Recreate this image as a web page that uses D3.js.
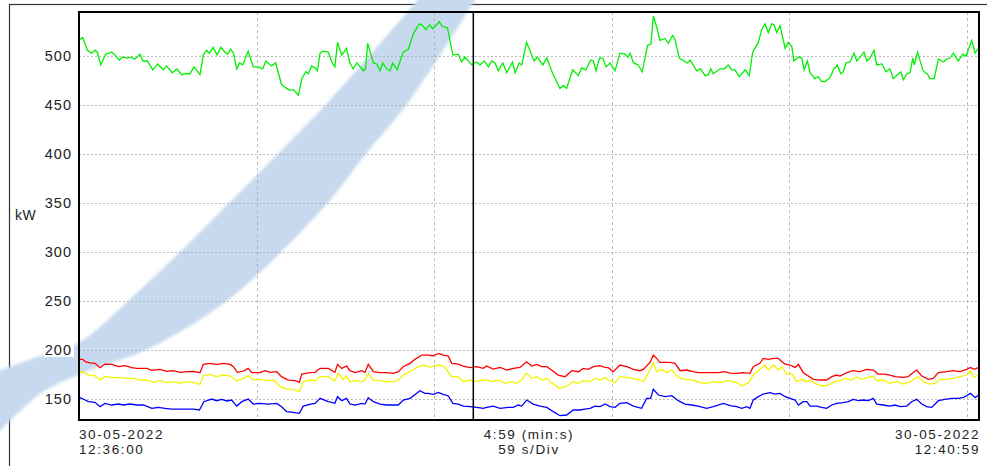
<!DOCTYPE html>
<html lang="en">
<head>
	<meta charset="UTF-8">
	<title>kW trend</title>
	<script src="https://d3js.org/d3.v7.min.js" charset="utf-8"></script>
	<style>
		body { margin: 0; background: #fff; }
		text { font-family: "Liberation Sans", Arial, sans-serif; fill: #222; }
	</style>
</head>
<body>
	<svg></svg>
	<script>
		// samples: [seconds from 12:36:00, kW]
		const green = [[0.3,517],[1.2,519],[2.8,506],[4.2,503],[5.3,506],[6.1,504],[7.2,491],[8.9,502],[10.9,504],[12.0,501],[13.3,496],[14.4,499],[16.2,498],[17.3,499],[18.6,497],[20.3,502],[21.2,495],[22.7,495],[24.5,486],[26.1,492],[28.0,486],[29.1,490],[31.0,483],[32.5,487],[34.1,481],[35.4,482],[36.9,482],[38.2,489],[40.2,481],[41.3,501],[42.4,506],[43.3,503],[44.6,509],[45.9,501],[47.1,509],[48.5,504],[49.4,502],[50.4,507],[51.3,503],[52.4,487],[53.3,493],[54.4,491],[56.2,505],[57.9,489],[59.6,489],[61.0,487],[62.1,495],[64.0,490],[65.3,493],[67.3,471],[69.0,467],[70.1,465],[71.2,466],[72.9,460],[74.0,477],[75.4,484],[76.2,482],[77.3,490],[78.4,488],[79.2,485],[80.1,503],[81.0,505],[82.8,504],[84.0,494],[85.0,489],[85.9,514],[87.3,501],[88.9,508],[90.0,493],[91.1,487],[92.3,493],[93.4,489],[94.5,485],[95.2,487],[95.9,513],[97.8,493],[98.9,492],[100.0,485],[100.9,493],[102.2,487],[103.3,485],[104.2,493],[105.7,486],[107.7,504],[109.4,507],[111.1,523],[113.1,533],[114.2,531],[115.3,527],[116.4,532],[117.5,528],[119.7,535],[120.8,530],[122.4,529],[124.2,501],[126.0,502],[127.1,494],[128.2,499],[130.5,491],[132.1,494],[133.2,491],[134.6,495],[136.0,489],[137.1,495],[138.2,493],[139.3,485],[140.8,493],[142.1,483],[144.0,494],[144.9,483],[146.2,493],[147.1,491],[148.7,514],[149.8,506],[151.2,495],[152.3,499],[154.1,491],[155.4,498],[157.4,482],[159.8,467],[160.9,470],[162.0,467],[164.0,486],[165.9,480],[167.0,488],[168.4,486],[170.0,496],[170.9,495],[171.8,485],[172.9,498],[174.0,498],[175.1,489],[176.4,493],[178.1,485],[179.7,503],[181.4,502],[182.3,499],[183.1,503],[184.2,493],[185.8,491],[187.1,484],[188.9,511],[190.0,512],[190.8,541],[191.9,530],[193.0,516],[194.7,518],[195.8,513],[197.2,521],[198.0,517],[199.4,498],[201.0,495],[202.1,493],[203.0,496],[205.2,485],[206.5,487],[208.0,480],[209.1,481],[209.9,487],[210.7,482],[213.0,487],[214.4,487],[215.7,491],[216.8,486],[217.9,486],[219.4,479],[221.3,486],[222.7,480],[223.8,504],[225.7,514],[226.8,527],[227.9,533],[229.0,524],[230.1,533],[230.9,532],[231.8,524],[232.9,531],[234.6,508],[235.6,514],[236.8,510],[237.5,495],[239.0,499],[240.1,498],[240.9,486],[242.0,495],[242.9,483],[244.5,477],[245.6,479],[246.7,474],[247.8,474],[249.5,478],[250.8,487],[251.9,491],[253.1,482],[253.9,484],[254.8,493],[256.1,494],[257.5,503],[258.4,495],[259.5,499],[260.8,504],[261.7,495],[262.8,498],[264.1,506],[265.0,491],[266.7,492],[268.1,484],[269.4,487],[270.5,477],[271.9,481],[273.0,484],[273.9,476],[275.0,482],[276.1,483],[277.0,498],[277.5,491],[278.6,504],[280.3,486],[281.1,483],[281.8,482],[282.7,477],[284.1,477],[285.5,497],[287.2,494],[288.3,497],[289.4,498],[290.5,503],[292.1,495],[293.6,502],[294.7,500],[295.5,507],[296.6,516],[297.7,503],[298.8,508]]

		const red = [[0.3,190.5],[1.2,190.5],[2.3,188],[3.7,187],[5.3,186.4],[7.0,182],[8.6,185.7],[10.9,185.4],[13.1,183],[15.3,184],[17.5,182],[19.2,181.3],[22.5,181.3],[24.2,179.2],[26.9,180.3],[29.1,178.2],[31.3,178.9],[33.6,177.2],[35.8,177.9],[38.0,178.2],[40.2,176.9],[41.3,185.4],[43.5,186.4],[45.7,185.4],[47.9,186.4],[50.2,185.4],[51.3,183],[52.6,177.2],[54.6,178.6],[56.2,181.3],[57.4,176.9],[60.1,176.9],[61.8,178.9],[63.5,177.2],[65.7,177.9],[67.3,172.8],[69.5,169.4],[71.8,168.7],[73.2,167],[74.0,175.5],[76.7,176.9],[78.4,177.2],[80.1,181.3],[82.8,181.3],[85.0,177.2],[85.9,185.4],[87.3,181.3],[88.9,183.7],[90.0,178.9],[91.7,176.9],[93.9,178.9],[95.0,177.2],[96.1,185.4],[97.8,177.9],[100.0,176.9],[102.2,176.9],[104.4,176.2],[106.1,177.9],[107.7,183],[110.0,186.4],[111.6,190.5],[113.9,194.9],[116.0,194.9],[117.7,194.2],[119.4,196.6],[121.0,194.9],[122.7,193.9],[123.8,186.4],[126.0,185.7],[127.7,183.7],[129.9,182],[132.1,183],[134.3,181.3],[135.4,183.7],[137.6,180.6],[139.9,182.3],[142.1,179.6],[144.3,181.3],[146.5,182.3],[148.7,188],[150.4,183.7],[152.1,185.4],[153.7,183],[155.4,183],[157.0,179.6],[159.2,174.5],[161.5,172.8],[163.7,178.9],[165.9,177.9],[167.5,181.3],[169.2,180.3],[170.9,183],[172.9,184],[174.8,182.3],[175.8,182],[177.5,177.9],[179.7,184.7],[182.0,183],[184.2,180.3],[186.4,178.9],[187.5,180.3],[189.7,187.4],[190.8,194.9],[191.9,191.5],[193.0,187.4],[194.7,187.4],[196.3,187.4],[198.0,186.4],[199.7,178.9],[201.9,179.6],[204.1,177.9],[205.7,176.9],[207.4,176.9],[209.6,176.9],[212.4,176.9],[214.6,177.9],[216.3,176.5],[218.5,176.2],[220.7,176.9],[222.9,176.2],[224.0,183],[226.2,186.4],[227.3,191.5],[229.0,190.5],[230.7,191.5],[232.3,191.5],[233.5,188],[234.6,185.7],[236.2,184.7],[237.9,182.3],[239.0,185.4],[240.6,176.9],[241.8,174.5],[244.0,170.1],[246.2,169.4],[248.4,169.4],[250.1,172.8],[251.7,174.5],[252.8,173.5],[255.1,176.9],[257.2,178.9],[259.5,177.9],[261.7,180.3],[263.9,179.6],[265.5,175.5],[267.8,175.5],[269.4,174.5],[271.1,172.8],[273.9,172.1],[275.5,172.8],[277.0,176.9],[278.3,179.6],[280.0,173.5],[282.2,170.1],[283.8,171.1],[285.5,176.9],[288.3,177.9],[290.5,178.9],[292.7,177.9],[294.9,180.3],[296.2,182.3],[297.3,180.3],[298.8,182]]

		const yellow = [[0.3,177.2],[1.4,177.9],[3.1,174.5],[5.3,173.8],[7.0,169.4],[8.6,172.8],[11.4,171.8],[13.6,172.1],[15.8,171.1],[18.0,171.1],[20.3,169.4],[22.5,169.4],[24.7,167],[26.9,168.7],[29.1,166.7],[31.3,167.7],[33.6,166],[35.8,167.7],[38.0,166.7],[40.2,165],[41.3,173.8],[43.5,175.2],[45.7,172.8],[47.9,174.5],[50.2,173.5],[52.4,168.4],[54.6,171.1],[56.2,174],[57.9,169.4],[60.1,170.1],[62.4,168.7],[64.6,169.4],[66.8,162.6],[69.0,160.2],[71.2,159.9],[73.2,157.5],[74.5,167.7],[76.7,169.4],[78.4,168.7],[80.1,172.8],[82.8,172.8],[85.0,168.7],[86.1,176.2],[87.6,170.1],[88.9,173.5],[90.0,167.7],[91.7,168.7],[93.9,167.7],[95.0,169.4],[96.1,176.2],[97.8,169.4],[100.0,168.7],[102.2,167.7],[104.4,167.7],[106.1,169.4],[107.7,174.5],[110.0,177.9],[112.2,182.3],[114.4,184.7],[116.6,182.3],[117.7,183.7],[119.9,184.7],[121.6,182.3],[123.8,172.8],[126.0,172.8],[127.7,167.7],[129.9,169.4],[132.1,167.7],[134.3,169.4],[135.4,169.4],[137.1,167.7],[139.3,169.4],[141.5,166],[143.8,167.7],[145.4,166],[147.1,169.4],[148.7,176.2],[150.4,171.1],[152.1,172.8],[153.7,169.4],[155.4,171.1],[157.0,166.7],[159.6,160.9],[161.8,162.6],[164.0,167.7],[165.9,166],[167.5,168.7],[169.8,167.7],[171.4,171.1],[173.1,169.4],[174.8,172.1],[175.8,169.4],[178.1,166.7],[179.7,172.8],[182.0,172.1],[184.2,171.1],[186.4,169.4],[187.5,167.7],[189.1,176.2],[190.8,187.1],[191.9,177.9],[193.6,180.3],[195.2,176.9],[196.9,179.6],[199.1,172.1],[201.3,170.1],[204.1,169.4],[206.3,166.7],[208.5,166],[210.7,167.7],[213.0,166.7],[215.7,168.7],[218.5,167],[220.2,163.3],[222.4,166.7],[224.0,174.5],[226.2,180.3],[227.9,184.7],[229.0,179.6],[230.7,184.7],[232.3,179.6],[233.5,183],[235.1,175.2],[236.8,176.2],[238.4,167.7],[240.1,170.1],[241.5,167.7],[242.9,169.4],[244.5,166],[246.7,163.3],[248.9,164.3],[251.2,167.7],[252.8,168.7],[254.5,171.1],[256.7,169.4],[258.4,172.8],[260.0,170.1],[262.2,172.1],[263.9,173.5],[265.0,168.7],[267.2,169.4],[269.4,166],[271.7,167.7],[273.9,165.3],[276.1,167.7],[277.7,171.1],[278.8,172.8],[280.5,167.7],[282.7,165.3],[284.4,166],[286.0,170.1],[288.3,170.1],[290.5,171.1],[292.7,172.8],[294.9,174.5],[296.2,178.9],[297.3,172.1],[298.8,174.5]]

		const blue = [[0.3,151.4],[1.4,150],[3.1,147.3],[5.3,146.6],[7.0,142.2],[8.6,145.6],[10.9,143.9],[13.1,144.9],[14.7,143.9],[16.9,144.9],[19.2,143.9],[21.4,143.9],[24.2,140.5],[26.3,141.5],[28.6,140.5],[30.8,139.8],[33.6,139.8],[35.8,139.8],[38.0,139.8],[40.0,138.8],[41.5,147.3],[44.1,150],[45.7,148.3],[47.4,149.7],[49.1,148],[50.7,149],[52.4,142.8],[54.1,147.3],[56.2,150],[57.9,144.9],[60.1,145.6],[62.9,144.9],[65.7,145.6],[67.3,142.2],[69.0,137.1],[71.2,136.4],[73.2,135.4],[74.5,142.8],[77.0,144.9],[78.4,145.6],[80.1,150.7],[82.8,147.3],[85.0,145.6],[85.9,152.4],[87.3,148.3],[88.9,150.7],[90.0,144.9],[91.7,143.9],[93.9,145.6],[95.0,144.9],[96.1,151.4],[97.8,147.3],[100.0,144.9],[102.2,143.9],[104.4,143.9],[106.1,143.9],[107.7,149],[110.0,150.7],[112.2,155.8],[113.3,158.5],[114.9,155.8],[116.0,155.8],[117.7,154.8],[119.4,156.8],[121.0,154.8],[122.7,153.1],[124.2,145.6],[126.0,144.9],[127.7,142.8],[129.9,142.2],[132.1,141.5],[134.3,140.5],[135.4,141.5],[137.6,142.8],[139.9,140.5],[142.6,141.5],[144.3,141.5],[145.9,143.9],[147.1,142.8],[148.7,149],[150.9,144.9],[153.2,142.8],[155.4,141.5],[157.6,137.1],[159.8,133],[162.0,133.7],[164.2,138.8],[166.4,138.8],[168.1,139.8],[169.8,140.5],[171.4,142.8],[173.1,142.2],[174.8,144.9],[176.4,142.2],[178.1,141.5],[179.7,145.6],[182.0,146.3],[184.2,142.8],[186.9,140.5],[188.6,150.7],[189.9,150.7],[190.8,159.9],[192.5,154.1],[194.7,152.4],[196.9,153.4],[199.1,148.3],[201.3,144.9],[203.6,143.9],[205.7,142.8],[208.5,140.5],[210.7,142.2],[214.1,145.6],[216.3,143.3],[218.5,142.2],[220.2,140.5],[221.8,142.2],[222.9,140.5],[224.0,149],[225.7,152.4],[227.3,155.1],[229.6,156.5],[231.2,155.1],[232.9,155.8],[234.6,152.4],[236.2,150.7],[237.9,149],[239.0,143.9],[240.6,147.3],[241.8,147.3],[242.9,142.8],[245.1,142.8],[246.7,141.5],[248.4,140.5],[250.1,143.9],[251.7,145.6],[253.9,146.3],[255.6,147.3],[257.2,149.7],[258.9,148.3],[260.6,149],[262.2,148.3],[263.9,150.7],[265.0,144.9],[267.2,143.9],[269.4,142.8],[271.1,143.9],[272.8,142.2],[275.0,142.8],[276.6,147.3],[278.3,149.7],[280.0,144.9],[281.6,142.2],[283.3,141.5],[285.5,148.3],[287.7,149.7],[289.9,150.7],[292.1,150.7],[293.9,151.7],[295.2,154.1],[296.2,155.8],[297.7,151.4],[298.8,154.1]]

		const yTicks = [150, 200, 250, 300, 350, 400, 450, 500]
		const xGrid = [59, 118, 177, 236, 295]
		const cursorTime = 131
		const startLabel = ['30-05-2022', '12:36:00']
		const midLabel = ['4:59 (min:s)', '59 s/Div']
		const endLabel = ['30-05-2022', '12:40:59']

		const width = 987, height = 466
		const plot = { left: 79, top: 12, right: 979, bottom: 420 }

		let svg = d3.select('svg')
			.attr('width', width)
			.attr('height', height)

		let x = d3.scaleLinear().domain([0, 299]).range([plot.left, plot.right])
		let y = d3.scaleLinear().domain([128.6, 545]).range([plot.bottom, plot.top])

		// outer frame
		svg.append('rect')
			.attr('x', 9.5).attr('y', 4.5)
			.attr('width', 1000).attr('height', 500)
			.attr('fill', '#fff')
			.attr('stroke', '#333')
			.attr('stroke-width', 1.2)

		// background swoosh watermark (soft edged)
		svg.append('filter').attr('id', 'soft')
			.append('feGaussianBlur').attr('stdDeviation', 1.5)
		let curve = d3.line().curve(d3.curveCatmullRom)
		let upper = [[-5, 372], [40, 356], [80, 342], [127, 302], [180, 252], [230, 202], [330, 100], [422, -5]]
		let lower = [[478, -5], [410, 100], [365, 155], [330, 200], [283, 250], [228, 300], [150, 348], [80, 374], [40, 394], [-5, 436]]
		svg.append('path')
			.attr('d', curve(upper) + 'L' + curve(lower).slice(1) + 'Z')
			.attr('fill', '#c6d9ee')
			.attr('filter', 'url(#soft)')

		svg.append('clipPath').attr('id', 'plotclip')
			.append('rect')
			.attr('x', plot.left).attr('y', plot.top)
			.attr('width', plot.right - plot.left).attr('height', plot.bottom - plot.top)

		// grid
		svg.append('g')
			.selectAll('line')
			.data(yTicks)
			.join('line')
			.attr('x1', plot.left).attr('x2', plot.right)
			.attr('y1', d => Math.round(y(d)) + 0.5).attr('y2', d => Math.round(y(d)) + 0.5)
			.attr('stroke', '#aaa')
			.attr('stroke-dasharray', '2,2')
			.attr('stroke-width', 0.8)

		svg.append('g')
			.selectAll('line')
			.data(xGrid)
			.join('line')
			.attr('x1', d => Math.round(x(d)) + 0.5).attr('x2', d => Math.round(x(d)) + 0.5)
			.attr('y1', plot.top).attr('y2', plot.bottom)
			.attr('stroke', '#aaa')
			.attr('stroke-dasharray', '3,3')
			.attr('stroke-width', 0.8)

		// y tick labels with white backing
		let yl = svg.append('g')
		yl.selectAll('rect')
			.data(yTicks)
			.join('rect')
			.attr('x', 44).attr('y', d => y(d) - 8)
			.attr('width', 30).attr('height', 15)
			.attr('fill', '#fff')
		yl.selectAll('text')
			.data(yTicks)
			.join('text')
			.attr('x', 72)
			.attr('y', d => y(d) + 5)
			.attr('text-anchor', 'end')
			.attr('font-size', 14.5)
			.attr('letter-spacing', 1)
			.text(d => d)

		svg.append('text')
			.attr('x', 15).attr('y', 220)
			.attr('font-size', 14)
			.attr('letter-spacing', 0.5)
			.text('kW')

		// series
		let line = d3.line().x(d => x(d[0])).y(d => y(d[1]))
		let series = [
			{ data: green, color: '#00f000' },
			{ data: red, color: '#ff0000' },
			{ data: yellow, color: '#f4f400' },
			{ data: blue, color: '#0000ff' }
		]
		svg.append('g')
			.attr('clip-path', 'url(#plotclip)')
			.selectAll('path')
			.data(series)
			.join('path')
			.attr('d', d => line(d.data))
			.attr('fill', 'none')
			.attr('stroke', d => d.color)
			.attr('stroke-width', 1.3)

		// cursor
		svg.append('line')
			.attr('x1', x(cursorTime)).attr('x2', x(cursorTime))
			.attr('y1', plot.top).attr('y2', plot.bottom)
			.attr('stroke', '#000')
			.attr('stroke-width', 1.5)

		// plot border
		svg.append('rect')
			.attr('x', plot.left).attr('y', plot.top)
			.attr('width', plot.right - plot.left).attr('height', plot.bottom - plot.top)
			.attr('fill', 'none')
			.attr('stroke', '#000')
			.attr('stroke-width', 2)

		// bottom labels
		function twoLines(lines, xPos, anchor) {
			let t = svg.append('text')
				.attr('text-anchor', anchor)
				.attr('font-size', 13.5)
				.attr('letter-spacing', 1.6)
			lines.forEach((s, i) => {
				t.append('tspan')
					.attr('x', xPos)
					.attr('y', 439 + i * 15)
					.text(s)
			})
		}
		twoLines(startLabel, plot.left, 'start')
		twoLines(midLabel, (plot.left + plot.right) / 2, 'middle')
		twoLines(endLabel, plot.right + 1, 'end')
	</script>
</body>
</html>
